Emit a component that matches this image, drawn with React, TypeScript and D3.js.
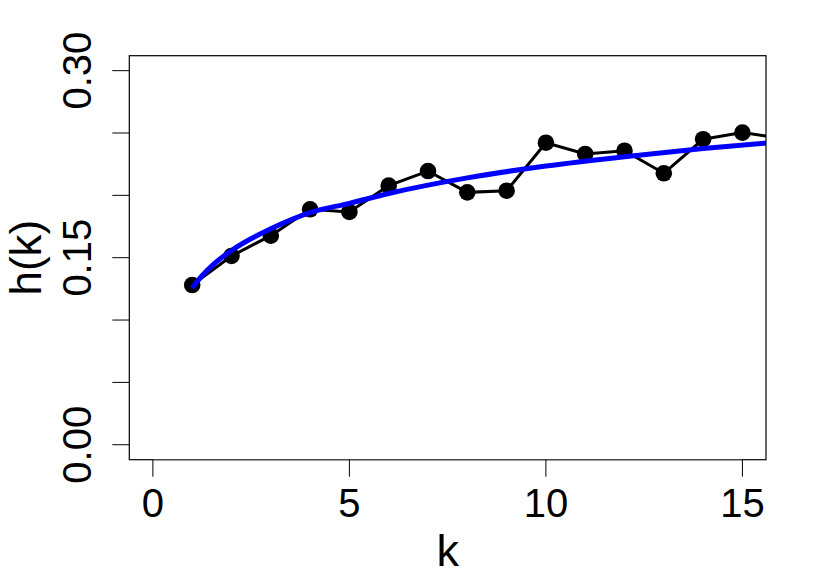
import React from "react";
import * as d3 from "d3";

// Observed h(k)
const kValues = [1, 2, 3, 4, 5, 6, 7, 8, 9, 10, 11, 12, 13, 14, 15, 16];
const hValues = [
  0.1281, 0.1514, 0.1677, 0.1888, 0.1867, 0.2078, 0.2195, 0.2024, 0.2037,
  0.2422, 0.2332, 0.2358, 0.2177, 0.2450, 0.2503, 0.2457,
];

// Fitted (blue) curve
const fitK = [1, 1.25, 1.5, 2, 3, 4, 5, 6, 8, 10, 12, 14, 16];
const fitH = [
  0.1257, 0.1355, 0.1435, 0.1558, 0.1732, 0.1862, 0.1936, 0.2015, 0.214,
  0.2235, 0.231, 0.2375, 0.243,
];

const xTicks = [0, 5, 10, 15];
const xTickLabels = ["0", "5", "10", "15"];
const yTicks = [0, 0.05, 0.1, 0.15, 0.2, 0.25, 0.3];
const yTickLabels = ["0.00", "", "", "0.15", "", "", "0.30"];

const W = 822;
const H = 582;
const left = 129.3;
const right = 766;
const top = 55.7;
const bottom = 459.7;
const font = "'Liberation Sans', Arial, Helvetica, sans-serif";

export default function App() {
  const x = d3.scaleLinear().domain([-0.6, 15.6]).range([left, right]);
  const y = d3.scaleLinear().domain([-0.012, 0.312]).range([bottom, top]);

  const obs = kValues.map((k, i) => [k, hValues[i]] as [number, number]);
  const fit = fitK.map((k, i) => [k, fitH[i]] as [number, number]);

  const line = d3
    .line<[number, number]>()
    .x((d) => x(d[0]))
    .y((d) => y(d[1]));
  const smooth = d3
    .line<[number, number]>()
    .x((d) => x(d[0]))
    .y((d) => y(d[1]))
    .curve(d3.curveMonotoneX);

  const tickLen = 17;

  return (
    <svg
      width={W}
      height={H}
      style={{ position: "absolute", left: 0, top: 0, background: "#fff" }}
    >
      <defs>
        <clipPath id="plotclip">
          <rect x={left} y={top} width={right - left} height={bottom - top} />
        </clipPath>
      </defs>
      <rect x={0} y={0} width={W} height={H} fill="#fff" />
      <g clipPath="url(#plotclip)">
        <path d={line(obs) || ""} fill="none" stroke="#000" strokeWidth={3} />
        {obs.map((d, i) => (
          <circle key={i} cx={x(d[0])} cy={y(d[1])} r={8.3} fill="#000" />
        ))}
        <path
          d={smooth(fit) || ""}
          fill="none"
          stroke="#0000FF"
          strokeWidth={5}
        />
      </g>
      <rect
        x={left}
        y={top}
        width={right - left}
        height={bottom - top}
        fill="none"
        stroke="#000"
        strokeWidth={1.2}
      />
      {/* x axis */}
      <line
        x1={x(xTicks[0])}
        x2={x(xTicks[xTicks.length - 1])}
        y1={bottom}
        y2={bottom}
        stroke="#555"
        strokeWidth={1}
      />
      {xTicks.map((t, i) => (
        <g key={"xt" + i}>
          <line
            x1={x(t)}
            x2={x(t)}
            y1={bottom}
            y2={bottom + tickLen}
            stroke="#000"
            strokeWidth={1}
          />
          <text
            x={x(t)}
            y={516.7}
            textAnchor="middle"
            fontFamily={font}
            fontSize={40}
            fill="#000"
          >
            {xTickLabels[i]}
          </text>
        </g>
      ))}
      {/* y axis */}
      {yTicks.map((t, i) => (
        <g key={"yt" + i}>
          <line
            x1={left - tickLen}
            x2={left}
            y1={y(t)}
            y2={y(t)}
            stroke="#000"
            strokeWidth={1}
          />
          {yTickLabels[i] && (
            <text
              transform={`translate(${90.7},${y(t)}) rotate(-90)`}
              textAnchor="middle"
              fontFamily={font}
              fontSize={40}
              fill="#000"
            >
              {yTickLabels[i]}
            </text>
          )}
        </g>
      ))}
      <text
        x={(left + right) / 2}
        y={566}
        textAnchor="middle"
        fontFamily={font}
        fontSize={45}
        fill="#000"
      >
        k
      </text>
      <text
        transform={`translate(${41},${(top + bottom) / 2}) rotate(-90)`}
        textAnchor="middle"
        fontFamily={font}
        fontSize={44}
        fill="#000"
      >
        h(k)
      </text>
    </svg>
  );
}
